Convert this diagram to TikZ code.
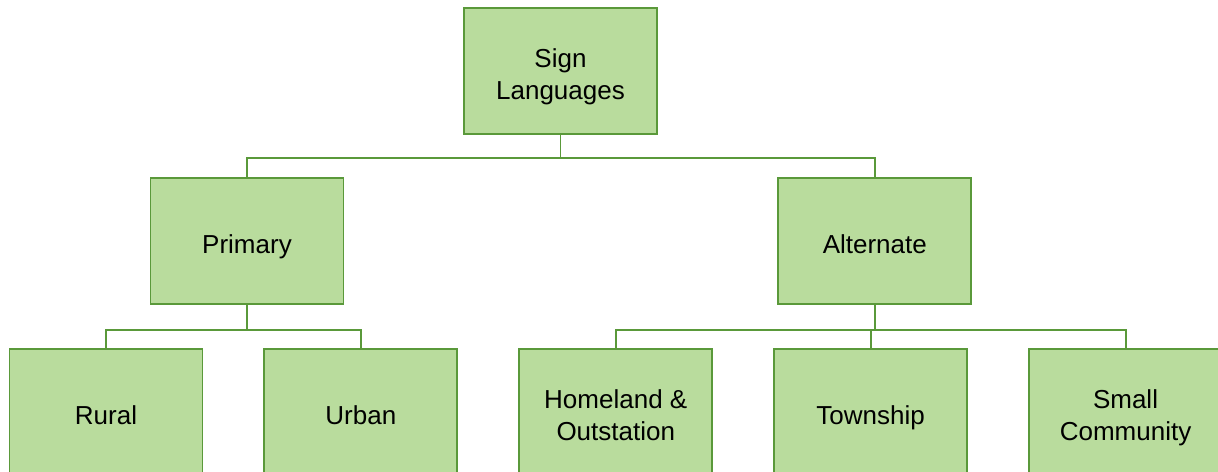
\documentclass[tikz,border=0pt]{standalone}
\usepackage{fontspec}
\setmainfont{Liberation Sans}
\usepackage{tikz}
\usetikzlibrary{positioning}
\definecolor{boxfill}{HTML}{B9DC9D}
\definecolor{boxborder}{HTML}{5A993A}
\tikzset{
    langbox/.style={
        rectangle, draw=boxborder, fill=boxfill,
        line width=1.1pt, minimum width=3.86cm,
        minimum height=2.52cm, align=center,
        font=\fontsize{14.8}{18}\selectfont, inner sep=2pt,
        text height=14.8pt, text depth=0pt
    },
    langbox two/.style={
        langbox, text height=31.9pt, text depth=0pt
    },
    tree link/.style={
        draw=boxborder, line width=1.1pt
    },
}
\begin{document}
\begin{tikzpicture}[x=0.02cm, y=-0.02cm]

    \useasboundingbox (0,0) rectangle (1218,472);
    \clip (0,0) rectangle (1218,472);

    % Top level
    \node[langbox two] (root) at (560.5,71) {Sign\\Languages};

    % Second level
    \node[langbox] (primary) at (247,241) {Primary};
    \node[langbox, right=8.66cm of primary] (alternate) {Alternate};

    % Third level
    \node[langbox] (rural) at (106,412) {Rural};
    \node[langbox, right=1.2cm of rural] (urban) {Urban};
    \node[langbox two, right=1.2cm of urban] (homeland) {Homeland \&\\Outstation};
    \node[langbox, right=1.2cm of homeland] (township) {Township};
    \node[langbox two, right=1.2cm of township] (small) {Small\\Community};

    % Connectors
    \draw[tree link] (root.south) -- ++(0,23) coordinate (rootbus) -| (primary.north);
    \draw[tree link] (rootbus) -| (alternate.north);

    \draw[tree link] (primary.south) -- ++(0,25) coordinate (primbus) -| (rural.north);
    \draw[tree link] (primbus) -| (urban.north);

    \draw[tree link] (alternate.south) -- ++(0,25) coordinate (altbus) -| (homeland.north);
    \draw[tree link] (altbus) -| (township.north);
    \draw[tree link] (altbus) -| (small.north);

\end{tikzpicture}
\end{document}
